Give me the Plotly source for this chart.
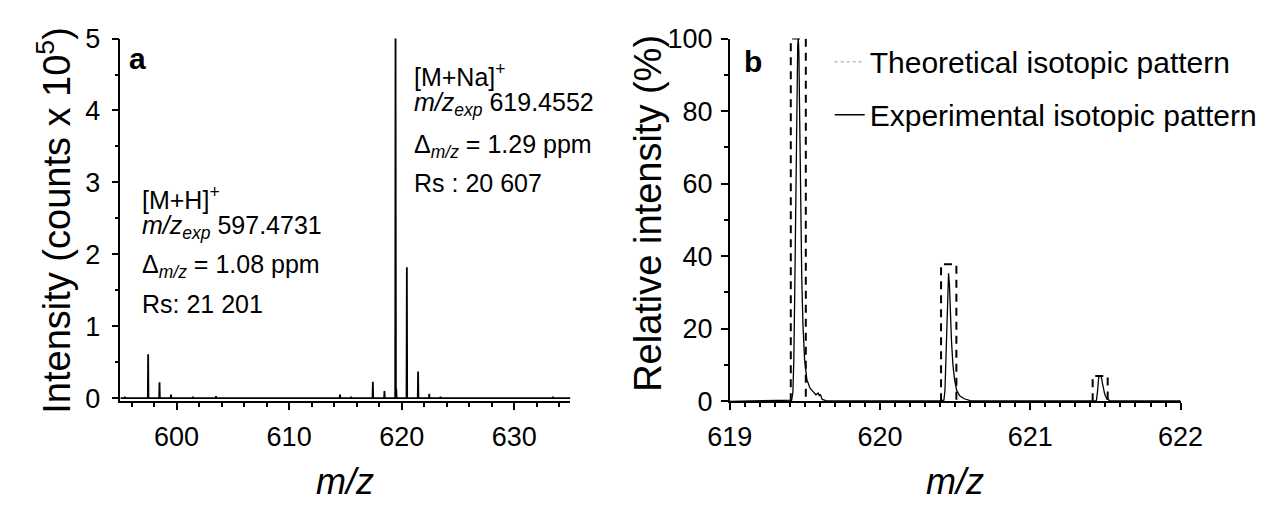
import plotly.graph_objects as go

W, H = 1272, 519
FONT = "Liberation Sans, Arial, Helvetica, sans-serif"

# ---------------- data: panel a (full MS spectrum, stick peaks) ----------------
a_mz = [595.4, 597.47, 598.48, 599.50, 601.45, 603.50, 614.52, 615.50,
        617.44, 618.47, 619.455, 619.52, 620.46, 621.46, 622.45, 623.45, 633.45]
a_int = [0.02, 0.61, 0.22, 0.05, 0.02, 0.03, 0.05, 0.02,
         0.23, 0.10, 5.20, 0.13, 1.82, 0.37, 0.06, 0.02, 0.02]
a_xrange = [595, 635]

# ---------------- data: panel b (isotopic pattern) ----------------
exp_mz = [619.00, 619.40, 619.412, 619.420, 619.426, 619.432, 619.438, 619.445, 619.452,
          619.456, 619.460, 619.464, 619.470, 619.479, 619.487, 619.498, 619.513, 619.534,
          619.556, 619.573, 619.588, 619.597, 619.603, 619.615, 619.640, 619.700,
          620.400, 620.425, 620.432, 620.440, 620.448, 620.456, 620.462, 620.468, 620.475,
          620.485, 620.496, 620.510, 620.530, 620.560, 620.600, 620.700,
          621.400, 621.440, 621.448, 621.455, 621.462, 621.472, 621.480, 621.495, 621.510,
          621.530, 622.000]
exp_int = [0.0, 0.1, 0.3, 2.5, 11, 29, 55, 80, 98,
           100, 96, 82, 56, 34, 21, 11.5, 6, 3.6,
           2.6, 1.8, 2.3, 1.5, 1.9, 0.5, 0.2, 0.1,
           0.1, 0.3, 3, 14, 28, 35.3, 32, 24, 17,
           10, 6, 3, 1.5, 0.7, 0.2, 0.1,
           0.1, 0.2, 3, 6.5, 7, 6.8, 5, 2, 0.6,
           0.2, 0.1]
theo_left = [619.406, 620.406, 621.415]
theo_right = [619.506, 620.508, 621.515]
theo_height = [100, 37.8, 7]

# ---------------- text ----------------
left_lines = ["[M+H]<sup>+</sup>",
              "<i>m/z</i><sub><i>exp</i></sub> 597.4731",
              "Δ<sub><i>m/z</i></sub> = 1.08 ppm",
              "Rs: 21 201"]
right_lines = ["[M+Na]<sup>+</sup>",
               "<i>m/z</i><sub><i>exp</i></sub> 619.4552",
               "Δ<sub><i>m/z</i></sub> = 1.29 ppm",
               "Rs : 20 607"]

# ---------------- build traces ----------------
xs, ys = [a_xrange[0]], [0]
for c, h in zip(a_mz, a_int):
    xs += [c - 0.03, c, c + 0.03]
    ys += [0, h, 0]
xs.append(a_xrange[1]); ys.append(0)

tx, ty = [], []
for l, r, h in zip(theo_left, theo_right, theo_height):
    tx += [l, l, r, r, None]
    ty += [0, h, h, 0, None]

fig = go.Figure()
fig.add_trace(go.Scatter(x=xs, y=ys, mode="lines", line=dict(color="black", width=1.8),
                         xaxis="x", yaxis="y", showlegend=False, hoverinfo="skip"))
fig.add_trace(go.Scatter(x=tx, y=ty, mode="lines",
                         line=dict(color="black", width=2, dash="8px,6px"),
                         xaxis="x2", yaxis="y2", showlegend=False, hoverinfo="skip"))
fig.add_trace(go.Scatter(x=[None], y=[None], mode="lines", name="Theoretical isotopic pattern",
                         line=dict(color="#bdbdbd", width=1.5, dash="dot"),
                         xaxis="x2", yaxis="y2", legendgroup="t"))
fig.add_trace(go.Scatter(x=exp_mz, y=exp_int, mode="lines", name="Experimental isotopic pattern",
                         line=dict(color="black", width=1.3),
                         xaxis="x2", yaxis="y2", legendgroup="e"))

y_dom = [1 - 410 / H, 1 - 25 / H]
axis_common = dict(showline=True, linecolor="black", linewidth=1.5, ticks="outside",
                   ticklen=7, tickwidth=1.5, tickcolor="black", showgrid=False,
                   zeroline=False, tickfont=dict(family=FONT, size=27, color="black"))

fig.update_layout(
    width=W, height=H, margin=dict(l=0, r=0, t=0, b=0),
    paper_bgcolor="white", plot_bgcolor="white",
    font=dict(family=FONT, color="black"),
    xaxis=dict(domain=[101 / W, 568 / W], anchor="y", range=a_xrange, tick0=600, dtick=10,
               minor=dict(dtick=2, ticks="outside", ticklen=4, tickwidth=1.5, tickcolor="black"),
               ticklabelstandoff=4, **axis_common),
    yaxis=dict(domain=y_dom, anchor="x", range=[-0.043, 5], tick0=0, dtick=1,
               minor=dict(dtick=0.5, ticks="outside", ticklen=4, tickwidth=1.5, tickcolor="black"),
               ticklabelstandoff=6, **axis_common),
    xaxis2=dict(domain=[733.3 / W, 1201 / W], anchor="y2", range=[619, 622], tick0=619, dtick=1,
                minor=dict(dtick=0.1, ticks="outside", ticklen=4, tickwidth=1.5, tickcolor="black"),
                ticklabelstandoff=4, **axis_common),
    yaxis2=dict(domain=y_dom, anchor="x2", range=[0, 100], tick0=0, dtick=20,
                minor=dict(dtick=10, ticks="outside", ticklen=4, tickwidth=1.5, tickcolor="black"),
                ticklabelstandoff=3, **axis_common),
    legend=dict(x=837 / W, xanchor="left", y=1 - 22 / H, yanchor="top",
                font=dict(family=FONT, size=30, color="black"), bgcolor="rgba(0,0,0,0)",
                tracegroupgap=11, itemwidth=30),
)

ann = []
def add(text, xpx, ypx, size, xanchor="left", yanchor="middle", angle=0):
    ann.append(dict(text=text, x=xpx / W, y=1 - ypx / H, xref="paper", yref="paper",
                    xanchor=xanchor, yanchor=yanchor, showarrow=False, textangle=angle,
                    font=dict(family=FONT, size=size, color="black")))

# axis titles
add("Intensity (counts x 10<sup>5</sup>)", 32.5, 218, 38, "center", "middle", -90)
add("Relative intensity (%)", 648.5, 211, 38, "center", "middle", -90)
add("<i>m/z</i>", 334.5, 495, 36, "center", "middle")
add("<i>m/z</i>", 967, 495, 36, "center", "middle")
# panel labels
add("<b>a</b>", 108, 57 - 10.4, 30)
add("<b>b</b>", 746, 60 - 10.4, 30)
# peak annotations
for t, b in zip(left_lines, [203, 234, 275, 315]):
    add(t, 121, b - 8.7, 25)
for t, b in zip(right_lines, [72, 103, 148, 187]):
    add(t, 404, b - 8.7, 25)

fig.update_layout(annotations=ann)
fig.write_html("out.html")
